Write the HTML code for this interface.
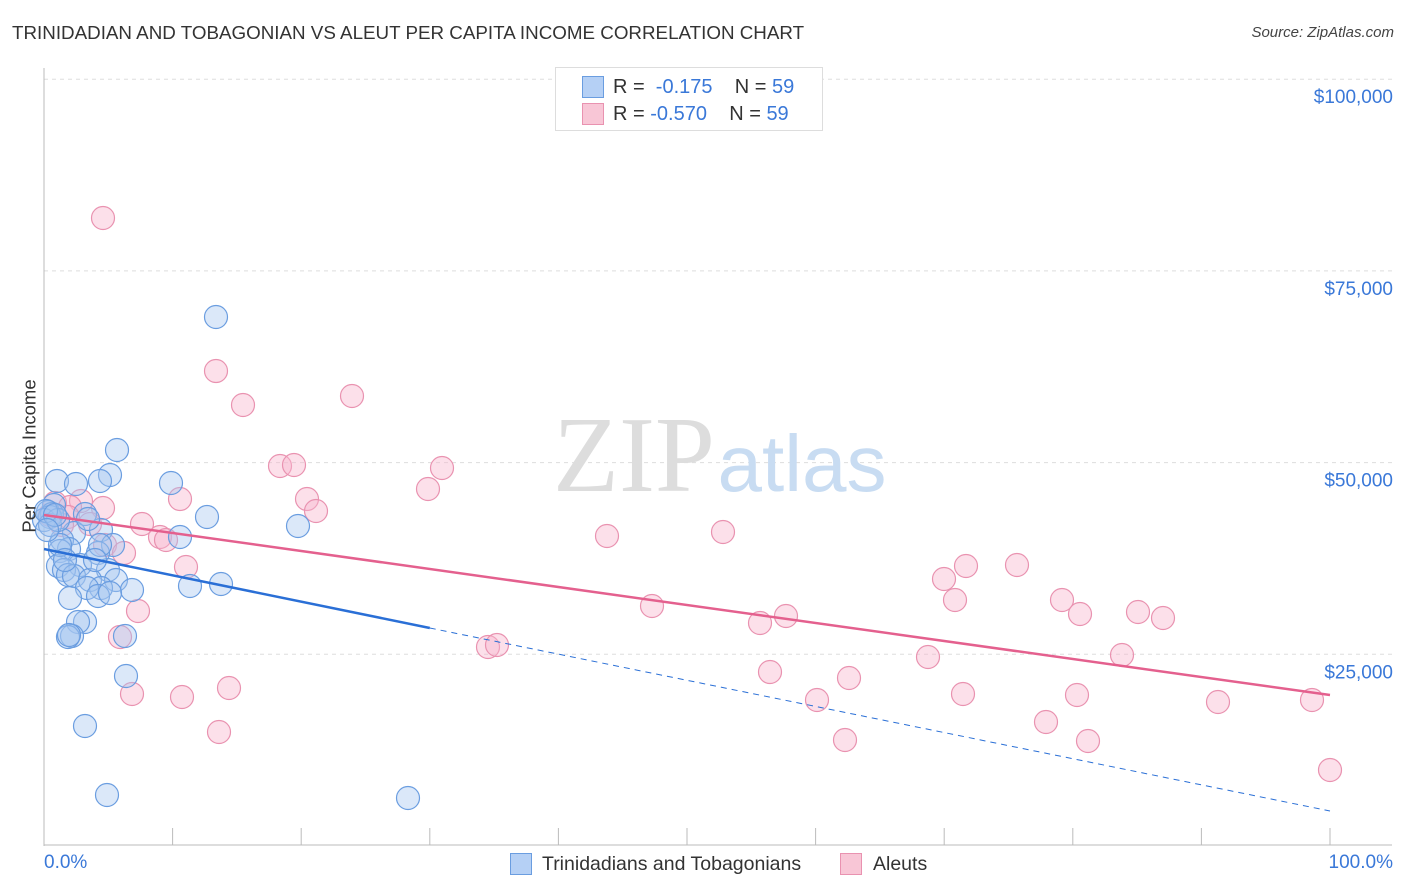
<!DOCTYPE html>
<html><head><meta charset="utf-8"><style>
body{margin:0;background:#fff;font-family:"Liberation Sans",sans-serif;}
#wrap{position:relative;width:1406px;height:892px;overflow:hidden;}
.t{position:absolute;white-space:nowrap;}
</style></head><body>
<div id="wrap">
<div class="t" style="left:12px;top:22px;font-size:18.8px;color:#333;">TRINIDADIAN AND TOBAGONIAN VS ALEUT PER CAPITA INCOME CORRELATION CHART</div>
<div class="t" style="right:12px;top:24px;font-size:15px;color:#444;font-style:italic;">Source: ZipAtlas.com</div>
<svg id="svg" width="1406" height="892" style="position:absolute;left:0;top:0"></svg>
</div>
<script>
const blueX=[216,117,57,110,100,76,171,54,48,52,50,85,207,298,180,101,74,44,62,69,113,60,98,80,58,64,68,108,74,90,116,101,132,190,221,87,98,110,70,85,78,72,68,125,69,126,85,107,408,50,58,46,60,100,95,65,55,88,47];
const blueY=[317,450,481,475,481,484,483,505,512,514,517,514,517,526,537,530,533,520,540,549,545,551,553,565,566,570,575,570,576,580,580,588,590,586,584,588,596,593,598,622,622,636,637,636,635,676,726,795,798,525,520,511,545,545,560,560,515,519,530];
const pinkX=[103,216,243,352,280,294,442,428,307,180,81,55,70,103,316,68,90,142,723,607,160,166,105,124,186,966,1017,944,955,1062,1138,1080,1163,652,786,760,138,120,488,497,1122,928,770,849,132,182,229,963,1077,817,1218,1312,1046,219,845,1088,1330,62,50];
const pinkY=[218,371,405,396,466,465,468,489,499,499,501,503,507,508,511,517,524,524,532,536,537,540,545,553,567,566,565,579,600,600,612,614,618,606,616,623,611,637,647,645,655,657,672,678,694,697,688,694,695,700,702,700,722,732,740,741,770,525,515];
const pxToX=p=>(p-44)/1286*100, pxToY=p=>(846-p)*25000/191.7;
const blueData=blueX.map((p,i)=>[pxToX(p),pxToY(blueY[i])]);
const pinkData=pinkX.map((p,i)=>[pxToX(p),pxToY(pinkY[i])]);
const xS=v=>44+v/100*1286, yS=v=>846-v/25000*191.7;
const yTicks=[25000,50000,75000,100000];
const yLabels=["$25,000","$50,000","$75,000","$100,000"];
const NS="http://www.w3.org/2000/svg";
const svg=document.getElementById('svg');
function mk(tag,attrs){const e=document.createElementNS(NS,tag);for(const k in attrs)e.setAttribute(k,attrs[k]);svg.appendChild(e);return e;}
yTicks.forEach((v,i)=>{
 const g=mk('line',{x1:44,x2:1392,y1:yS(v),y2:yS(v),stroke:'#ddd','stroke-dasharray':'4,4'});
 
 
 const t=mk('text',{x:1393,y:yS(v)+24,'text-anchor':'end','font-size':19,fill:'#3a78d8'});
 t.textContent=yLabels[i];
 
 
});
const ax=mk('line',{x1:44,x2:44,y1:68,y2:846,stroke:'#bbb'});


const bx=mk('line',{x1:44,x2:1392,y1:845,y2:845,stroke:'#bbb'});


for(let i=0;i<=10;i++){const tk=mk('line',{x1:xS(i*10),x2:xS(i*10),y1:828,y2:845,stroke:'#bbb'});
 
 }
const w1=mk('text',{x:634,y:491,'text-anchor':'middle','font-size':108,'font-family':'Liberation Serif',fill:'#ddd'});w1.textContent='ZIP';


const w2=mk('text',{x:802,y:491,'text-anchor':'middle','font-size':80,fill:'#c8dcf2'});w2.textContent='atlas';


function pts(data,fill,stroke,name){data.forEach(d=>{const c=mk('circle',{cx:xS(d[0]),cy:yS(d[1]),r:11.5,fill:fill,stroke:stroke,'stroke-width':1.2});
 
 });}
pts(pinkData,'rgba(248,182,204,0.42)','#e992b0','aleut-point');
pts(blueData,'rgba(165,198,240,0.4)','#6a9de0','trinidadian-point');
const l1=mk('line',{x1:xS(0),y1:549,x2:xS(30),y2:628,stroke:'#2a6fd6','stroke-width':2.5});


const l2=mk('line',{x1:xS(30),y1:628,x2:xS(100),y2:811,stroke:'#2a6fd6','stroke-width':1,'stroke-dasharray':'6,5'});


const l3=mk('line',{x1:xS(0),y1:515,x2:xS(100),y2:695,stroke:'#e4608e','stroke-width':2.5});


</script>
<div class="t" style="left:44px;top:852px;font-size:19px;color:#3a78d8">0.0%</div>
<div class="t" style="right:13px;top:852px;font-size:19px;color:#3a78d8">100.0%</div>
<div class="t" style="left:-47px;top:445px;font-size:18.5px;color:#333;transform:rotate(-90deg);">Per Capita Income</div>
<div style="position:absolute;left:555px;top:67px;width:266px;height:62px;border:1px solid #ddd;background:#fff;font-size:20px;">
 <div class="t" style="left:26px;top:8px;width:20px;height:20px;background:#b5d0f5;border:1px solid #6a9de0;"></div>
 <div class="t" style="left:57px;top:8px;color:#333">R = &nbsp;<span style="color:#3a78d8">-0.175</span>&nbsp;&nbsp;&nbsp; N = <span style="color:#3a78d8">59</span></div>
 <div class="t" style="left:26px;top:35px;width:20px;height:20px;background:#f8c6d6;border:1px solid #e992b0;"></div>
 <div class="t" style="left:57px;top:35px;color:#333">R = <span style="color:#3a78d8">-0.570</span>&nbsp;&nbsp;&nbsp; N = <span style="color:#3a78d8">59</span></div>
</div>
<div class="t" style="left:510px;top:853px;width:20px;height:20px;background:#b5d0f5;border:1px solid #6a9de0;"></div>
<div class="t" style="left:542px;top:853px;font-size:19.5px;color:#333">Trinidadians and Tobagonians</div>
<div class="t" style="left:840px;top:853px;width:20px;height:20px;background:#f8c6d6;border:1px solid #e992b0;"></div>
<div class="t" style="left:873px;top:853px;font-size:19.5px;color:#333">Aleuts</div>
</body></html>
